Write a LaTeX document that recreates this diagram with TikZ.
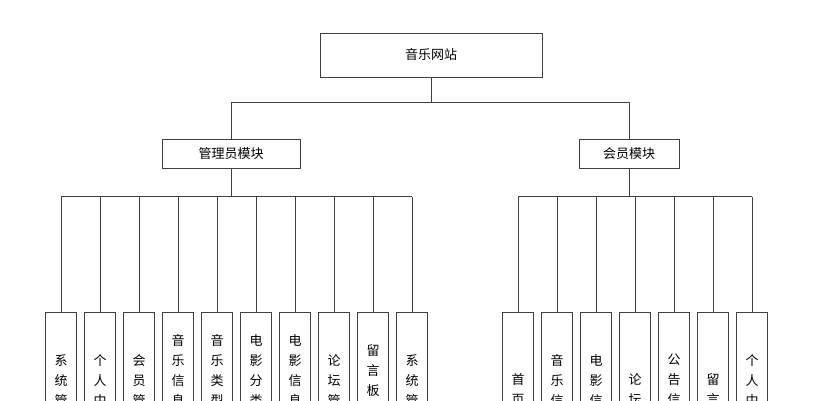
\documentclass[tikz,border=0pt]{standalone}
\usepackage{fontspec}
\setmainfont{Noto Sans CJK SC}
\begin{document}
\begin{tikzpicture}[x=1pt,y=-1pt,
  box/.style={draw=black!75,line width=0.8pt,fill=white,inner sep=0pt,font=\fontsize{13}{15}\selectfont},
  leaf/.style={box,minimum width=31pt,minimum height=156pt,align=center,font=\fontsize{13}{20}\selectfont},
  ln/.style={draw=black!75,line width=0.8pt}]
\useasboundingbox (0,0) rectangle (818,400);
\begin{scope}
\clip (0,0) rectangle (818,400);
\node[box,minimum width=222pt,minimum height=44pt] (root) at (431,55) {音乐网站};
\node[box,minimum width=138pt,minimum height=29pt] (adm) at (231,153.5) {管理员模块};
\node[box,minimum width=100pt,minimum height=29pt] (mem) at (629,154) {会员模块};
\coordinate (bl) at (231,102); \coordinate (br) at (629,102);
\draw[ln] (root.south) -- (root.south |- bl);
\draw[ln] (adm.north) -- (bl) -- (br) -- (mem.north);
\foreach \i/\t in {0/系\\统\\管\\理,1/个\\人\\中\\心,2/会\\员\\管\\理,3/音\\乐\\信\\息\\管\\理,4/音\\乐\\类\\型\\管\\理,5/电\\影\\分\\类\\管\\理,6/电\\影\\信\\息\\管\\理,7/论\\坛\\管\\理,8/留\\言\\板\\管\\理,9/系\\统\\管\\理}{
  \node[leaf] (a\i) at ({61+39*\i},390) {\t};
  \draw[ln] (a\i.north) -- ++(0,-115);
}
\path (a0.north) ++(0,-115) coordinate (al) (a9.north) ++(0,-115) coordinate (ar);
\draw[ln] (al) -- (ar);
\draw[ln] (adm.south) -- (adm.south |- al);
\foreach \i/\t in {0/首\\页,1/音\\乐\\信\\息,2/电\\影\\信\\息,3/论\\坛,4/公\\告\\信\\息,5/留\\言,6/个\\人\\中\\心}{
  \node[leaf] (b\i) at ({518+39*\i},390) {\t};
  \draw[ln] (b\i.north) -- ++(0,-115);
}
\path (b0.north) ++(0,-115) coordinate (bl2) (b6.north) ++(0,-115) coordinate (br2);
\draw[ln] (bl2) -- (br2);
\draw[ln] (mem.south) -- (mem.south |- bl2);
\end{scope}
\end{tikzpicture}
\end{document}
